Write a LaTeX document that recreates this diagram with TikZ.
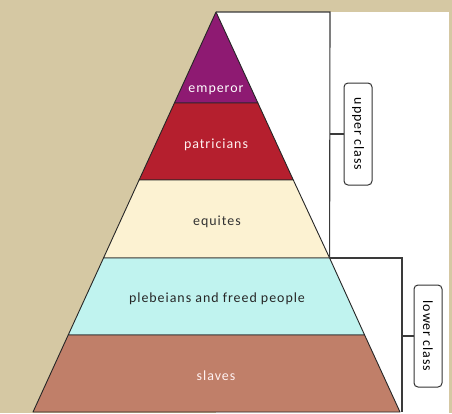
\documentclass[tikz,border=0pt]{standalone}
\usepackage{fontspec}
\newfontfamily\lblfont{Carlito}[LetterSpace=7]
\definecolor{bgbeige}{HTML}{D5C8A3}
\definecolor{cemp}{HTML}{8E1A72}
\definecolor{cpat}{HTML}{B51F2E}
\definecolor{cequ}{HTML}{FCF2D2}
\definecolor{cple}{HTML}{C0F3EF}
\definecolor{csla}{HTML}{C07F69}
\definecolor{bracketgray}{HTML}{3A3A3A}
\begin{document}
\begin{tikzpicture}[x=1bp,y={(0bp,-1bp)},
  layer/.style={draw=black!85,line width=0.9bp,line join=round},
  lbl/.style={font=\lblfont\fontsize{14}{16}\selectfont,inner sep=0pt},
  classbox/.style={draw=black!80,line width=1bp,fill=white,rounded corners=4bp,
    rotate=-90,minimum width=102bp,minimum height=28bp,inner sep=0pt,
    font=\lblfont\fontsize{14}{16}\selectfont},
  bracket/.style={draw=bracketgray,line width=1.1bp}]
\useasboundingbox (0,0) rectangle (452,413);
\fill[bgbeige] (0,0) rectangle (452,413);
\fill[white] (216,12) rectangle (449,413);
% pyramid corner coordinates
\coordinate (apex) at (216,12);
\coordinate (l1) at (174.4,103); \coordinate (r1) at (257.9,103);
\coordinate (l2) at (139.1,180); \coordinate (r2) at (293.3,180);
\coordinate (l3) at (103.5,258); \coordinate (r3) at (329.6,258);
\coordinate (l4) at (68.2,335);  \coordinate (r4) at (364.6,335);
\coordinate (l5) at (33,412);    \coordinate (r5) at (400,412);
% layers
\path[layer,fill=cemp] (apex) -- (r1) -- (l1) -- cycle;
\path[layer,fill=cpat] (l1) -- (r1) -- (r2) -- (l2) -- cycle;
\path[layer,fill=cequ] (l2) -- (r2) -- (r3) -- (l3) -- cycle;
\path[layer,fill=cple] (l3) -- (r3) -- (r4) -- (l4) -- cycle;
\path[layer,fill=csla] (l4) -- (r4) -- (r5) -- (l5) -- cycle;
% labels
\node[lbl,text=white] (emp) at (216,90) {emperor};
\node[lbl,text=red!5!white] (pat) at (216,145) {patricians};
\node[lbl,text=black!80] (equ) at (217,222) {equites};
\node[lbl,text=black!85] (ple) at (217,299) {plebeians and freed people};
\node[lbl,text=red!5!white] (sla) at (216,376) {slaves};
% brackets
\coordinate (ub) at (330,12);
\coordinate (ubm) at (330,134);
\coordinate (lbt) at (402,258);
\coordinate (lbm) at (402,336);
\coordinate (lbb) at (402,412);
\node[classbox] (upper) at (358,134) {upper class};
\node[classbox] (lower) at (428,336) {lower class};
\draw[bracket] (apex) -- (ub) -- (r3);
\draw[bracket] (r3) -- (lbt) -- (lbb);
\draw[bracket] (ubm) -- (upper.south);
\draw[bracket] (lbm) -- (lower.south);
\end{tikzpicture}
\end{document}
